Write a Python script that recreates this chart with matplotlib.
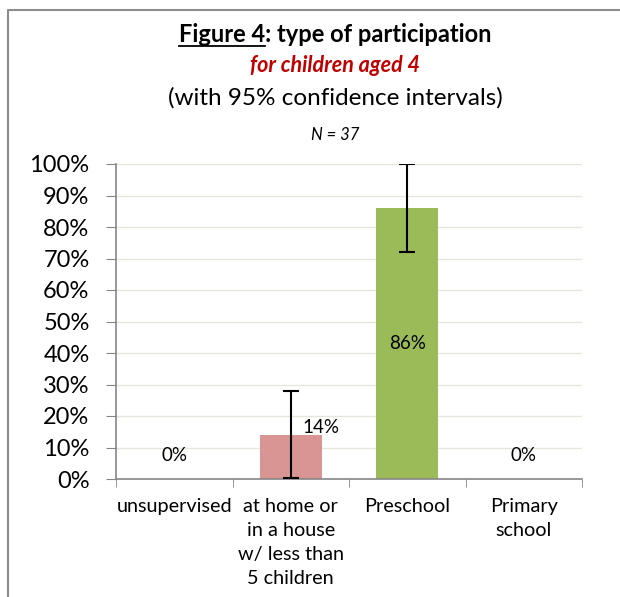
import matplotlib.pyplot as plt
from matplotlib.lines import Line2D
import numpy as np

categories = ['unsupervised', 'at home or\nin a house\nw/ less than\n5 children', 'Preschool', 'Primary\nschool']
values = [0.0, 0.14, 0.86, 0.0]
err_low = [0.0, 0.137, 0.14, 0.0]
err_high = [0.0, 0.139, 0.14, 0.0]
bar_colors = ['#D99594', '#D99594', '#9BBB59', '#9BBB59']
labels = ['0%', '14%', '86%', '0%']
yticks = np.arange(0, 1.01, 0.1)

plt.rcParams['font.family'] = ['Lato', 'DejaVu Sans']

fig = plt.figure(figsize=(6.2, 5.97), dpi=100)
ax = fig.add_axes([116 / 620, 1 - 479 / 597, (582 - 116) / 620, (479 - 164) / 597])

x = np.arange(len(categories))
ax.bar(x, values, width=0.53, color=bar_colors, zorder=2)
for i in (1, 2):
    ax.errorbar(x[i], values[i], yerr=[[err_low[i]], [err_high[i]]], fmt='none',
                ecolor='black', elinewidth=1.5, capsize=6, capthick=1.5, zorder=3)

# value labels
ax.text(x[0], 0.075, labels[0], ha='center', va='center', fontsize=13.5)
ax.text(x[1] + 0.26, 0.165, labels[1], ha='center', va='center', fontsize=13.5)
ax.text(x[2], 0.43, labels[2], ha='center', va='center', fontsize=13.5)
ax.text(x[3], 0.075, labels[3], ha='center', va='center', fontsize=13.5)

ax.set_xlim(-0.5, 3.5)
ax.set_ylim(0, 1)
ax.set_yticks(yticks)
ax.set_yticklabels([f'{int(round(v * 100))}%' for v in yticks], fontsize=17)
ax.yaxis.grid(True, color='#E8E6DC', linewidth=1, zorder=0)
ax.set_axisbelow(True)

ax.set_xticks(x)
ax.set_xticklabels(categories, fontsize=14.3, va='top', linespacing=1.5)
ax.tick_params(axis='x', length=0, pad=14)
ax.set_xticks(np.arange(-0.5, 4, 1), minor=True)
ax.tick_params(axis='x', which='minor', length=6, color='#868686', direction='out')
ax.tick_params(axis='y', length=7, color='#868686', direction='out', pad=12)

for s in ('top', 'right'):
    ax.spines[s].set_visible(False)
for s in ('left', 'bottom'):
    ax.spines[s].set_color('#868686')
    ax.spines[s].set_linewidth(1.2)

# titles
cx = 335 / 620
title = fig.text(cx, 1 - 35 / 597, 'Figure 4: type of participation', ha='center', va='center',
                 fontsize=17, fontweight='bold')
fig.text(cx, 1 - 65 / 597, 'for children aged 4', ha='center', va='center',
         fontsize=15.5, fontweight='bold', fontstyle='italic', color='#C00000')
fig.text(cx, 1 - 98 / 597, '(with 95% confidence intervals)', ha='center', va='center', fontsize=17.5)
fig.text(cx, 1 - 135 / 597, 'N = 37', ha='center', va='center', fontsize=12, fontstyle='italic')

# underline "Figure 4"
renderer = fig.canvas.get_renderer()
bb = title.get_window_extent(renderer)
tmp = fig.text(0, 0, 'Figure 4', fontsize=17, fontweight='bold')
w = tmp.get_window_extent(renderer).width
tmp.remove()
uy = (bb.y0 + 1) / fig.bbox.height
fig.add_artist(Line2D([bb.x0 / fig.bbox.width, (bb.x0 + w) / fig.bbox.width], [uy, uy],
                      color='black', linewidth=1.3, transform=fig.transFigure))

# chart border
fig.add_artist(Line2D([8 / 620, 8 / 620, 1.0], [0.0, 1 - 10 / 597, 1 - 10 / 597],
                      color='#8C8C8C', linewidth=1.5, transform=fig.transFigure))

fig.savefig('out.png', dpi=100)
